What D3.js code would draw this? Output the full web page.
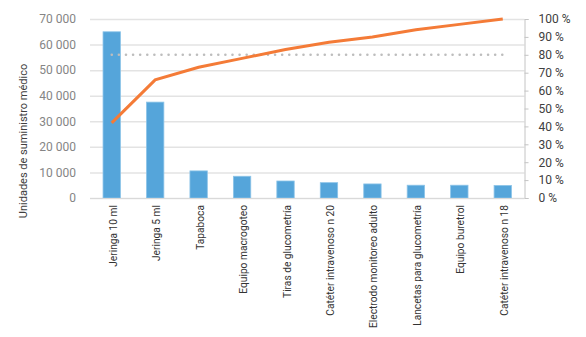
<!DOCTYPE html>
<html><head><meta charset="utf-8">
<script src="https://cdn.jsdelivr.net/npm/d3@7"></script>
<style>body{margin:0;background:#fff}svg{display:block}text{font-family:Roboto,"Liberation Sans",sans-serif}</style>
</head><body><svg id="c" width="586" height="337"></svg>
<script>
const categories = ["Jeringa 10 ml","Jeringa 5 ml","Tapaboca","Equipo macrogoteo","Tiras de glucometría","Catéter intravenoso n 20","Electrodo monitoreo adulto","Lancetas para glucometría","Equipo buretrol","Catéter intravenoso n 18"];
const units = [65000, 37500, 10600, 8500, 6650, 6000, 5500, 5000, 5000, 4900];
const cumulativePct = [42, 66, 73, 78, 83, 87, 90, 94, 97, 100];
const leftTicks = [0,10000,20000,30000,40000,50000,60000,70000];
const rightTicks = [0,10,20,30,40,50,60,70,80,90,100];
const threshold = 80;
const yTitle = "Unidades de suministro médico";

const svg = d3.select("#c");
const L = 90, R = 524.5, T = 19, B = 198;
const x = d3.scaleBand().domain(categories).range([L, R]).paddingInner(0.6).paddingOuter(0.3);
const y = d3.scaleLinear().domain([0,70000]).range([B,T]);
const yp = d3.scaleLinear().domain([0,100]).range([B,T]);
const fmt = v => d3.format(",")(v).replace(/,/g," ");

// grid
svg.append("g").selectAll("line").data(leftTicks).join("line")
  .attr("x1",L).attr("x2",R).attr("y1",d=>y(d)+0.5).attr("y2",d=>y(d)+0.5)
  .attr("stroke","#e3e3e3").attr("stroke-width",1.5);

// left axis labels
const ga = d3.axisLeft(y).tickValues(leftTicks).tickFormat(fmt).tickSize(0).tickPadding(14);
const gl = svg.append("g").attr("transform",`translate(${L},0)`).call(ga);
gl.select(".domain").remove();
gl.selectAll("text").attr("font-size",12).attr("fill","#858585");

// right axis
const gr = svg.append("g").attr("transform",`translate(${R},0)`)
  .call(d3.axisRight(yp).tickValues(rightTicks).tickFormat(d=>d+" %").tickSize(4).tickPadding(10));
gr.select(".domain").attr("stroke","#c4c4c4");
gr.selectAll(".tick line").attr("stroke","#c4c4c4");
gr.selectAll("text").attr("font-size",12).attr("fill","#404040");

// bars
svg.append("g").selectAll("rect").data(units).join("rect")
  .attr("x",(d,i)=>x(categories[i])).attr("width",x.bandwidth())
  .attr("y",d=>y(d)).attr("height",d=>B-y(d))
  .attr("fill","#55a5da").attr("stroke","#8cc4e8").attr("stroke-width",0.8);

// baseline
svg.append("line").attr("x1",L).attr("x2",R).attr("y1",B+0.5).attr("y2",B+0.5).attr("stroke","#d9d9d9").attr("stroke-width",1);

// x labels
svg.append("g").selectAll("text").data(categories).join("text")
  .attr("transform",d=>`translate(${x(d)+x.bandwidth()/2+5},205) rotate(-90)`)
  .attr("text-anchor","end").attr("font-size",10.2).attr("fill","#333").text(d=>d);

// threshold dotted
const cx = d => x(d)+x.bandwidth()/2;
svg.append("line").attr("x1",cx(categories[0])).attr("x2",cx(categories[categories.length-1]))
  .attr("y1",yp(threshold)).attr("y2",yp(threshold))
  .attr("stroke","#bdbdbd").attr("stroke-width",2.5).attr("stroke-dasharray","0.1 7").attr("stroke-linecap","round");

// cumulative line
svg.append("path").datum(cumulativePct)
  .attr("d",d3.line().x((d,i)=>cx(categories[i])).y(d=>yp(d)))
  .attr("fill","none").attr("stroke","#f47b37").attr("stroke-width",3);

// y title
svg.append("text").attr("transform",`translate(27,141) rotate(-90)`)
  .attr("text-anchor","middle").attr("font-size",11).attr("fill","#404040").text(yTitle);
</script></body></html>
